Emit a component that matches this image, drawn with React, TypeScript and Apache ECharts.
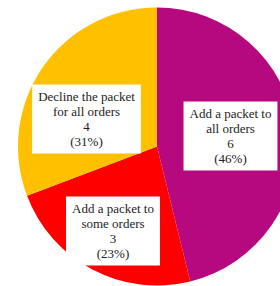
import React, { useEffect, useRef } from "react";
import * as echarts from "echarts";

const categories = [
  "Add a packet to\nall orders",
  "Add a packet to\nsome orders",
  "Decline the packet\nfor all orders",
];
const values = [6, 3, 4];
const colors = ["#B6097F", "#FF0000", "#FFC000"];
const labelPos: [number, number][] = [
  [230.5, 136],
  [113, 231],
  [86.5, 119],
];

export default function App() {
  const ref = useRef<HTMLDivElement>(null);
  useEffect(() => {
    if (!ref.current) return;
    const chart = echarts.init(ref.current, null, { renderer: "svg" });
    chart.setOption({
      animation: false,
      series: [
        {
          type: "pie",
          center: [157, 146.5],
          radius: 139,
          startAngle: 90,
          clockwise: true,
          percentPrecision: 0,
          data: categories.map((c, i) => ({
            name: c,
            value: values[i],
            itemStyle: { color: colors[i] },
          })),
          label: {
            show: true,
            position: "inside",
            formatter: "{b}\n{c}\n({d}%)",
            fontFamily: "'Liberation Serif', 'Times New Roman', serif",
            fontSize: 13,
            lineHeight: 15,
            color: "#222",
            backgroundColor: "#ffffff",
            padding: [5, 6, 4, 6],
            align: "center",
          },
          labelLine: { show: false },
          labelLayout: (params: any) => {
            const p = labelPos[params.dataIndex];
            return { x: p[0], y: p[1], align: "center", verticalAlign: "middle" };
          },
          emphasis: { disabled: true },
        },
      ],
    });
    return () => chart.dispose();
  }, []);
  return (
    <div
      ref={ref}
      style={{ position: "absolute", left: 0, top: 0, width: 280, height: 286, background: "#fff" }}
    />
  );
}
